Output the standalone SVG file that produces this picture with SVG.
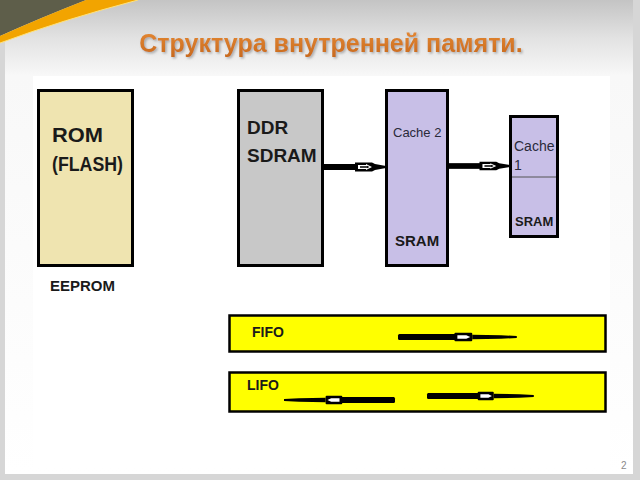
<svg xmlns="http://www.w3.org/2000/svg" xmlns:xlink="http://www.w3.org/1999/xlink" width="640" height="480" viewBox="0 0 640 480">
  <defs>
    <linearGradient id="bg" x1="0" y1="0" x2="0" y2="1">
      <stop offset="0" stop-color="#c4c4c4"/>
      <stop offset="0.08" stop-color="#e2e2e2"/>
      <stop offset="0.16" stop-color="#f8f8f8"/>
      <stop offset="1" stop-color="#ffffff"/>
    </linearGradient>
    <linearGradient id="orng" x1="0" y1="0" x2="0" y2="1">
      <stop offset="0" stop-color="#e68a34"/>
      <stop offset="1" stop-color="#c86a1e"/>
    </linearGradient>
    <filter id="shadow" x="-5%" y="-30%" width="110%" height="160%">
      <feDropShadow dx="1.5" dy="1.5" stdDeviation="1" flood-color="#808080" flood-opacity="0.6"/>
    </filter>
    <g id="pen">
      <rect x="0" y="-3" width="62" height="6" rx="1.5" fill="#000"/>
      <rect x="57" y="-4.2" width="18" height="8.4" rx="1" fill="#000"/>
      <path d="M60,-1.8 H69 L73,0 L69,1.8 H60 Z" fill="#fff"/>
      <path d="M75,-2.2 L104,-1.8 L120,-0.9 V0.9 L104,1.8 L75,2.2 Z" fill="#000"/>
    </g>
    <g id="conn">
      <rect x="0" y="-3" width="37" height="6" fill="#000"/>
      <path d="M33,-4.5 H50 L53,-3 L64,-1 V1 L53,3 L50,4.5 H33 Z" fill="#000"/>
      <path d="M36,-2 H44 V-3 L50,0 L44,3 V2 H36 Z" fill="#fff"/>
      <path d="M38,-0.8 H45 V-1.3 L47.5,0 L45,1.3 V0.8 H38 Z" fill="#000"/>
    </g>
    <style>
      .box { stroke: #000; stroke-width: 3; }
      .lbl { font-family: "Liberation Sans", Arial, sans-serif; font-weight: bold; fill: #1a1a1a; }
      .reg { font-family: "Liberation Sans", Arial, sans-serif; fill: #2a2a3a; }
      .bar { fill: #ffff00; stroke: #000; stroke-width: 2.5; }
    </style>
  </defs>

  <!-- slide background -->
  <rect x="0" y="0" width="640" height="480" fill="#d6d6d6"/>
  <rect x="5" y="0" width="628" height="474" fill="url(#bg)"/>
  <rect x="33" y="76" width="577" height="392" fill="#ffffff"/>
  <path d="M0,0 H86 Q40,18 0,36 Z" fill="#5e5e4a"/>
  <path d="M0,36 Q40,18 86,0 H138 Q62,20 0,43 Z" fill="#f2a400"/>
  <path d="M0,43 Q62,20 138,0" fill="none" stroke="#ffe27a" stroke-width="1"/>

  <!-- title -->
  <g id="title">
    <text x="331" y="52" text-anchor="middle" font-family="Liberation Sans, Arial, sans-serif" font-weight="bold" font-size="25" fill="url(#orng)" filter="url(#shadow)">Структура внутренней памяти.</text>
  </g>

  <g id="rom">
    <rect class="box" x="38.5" y="90.5" width="94" height="175" fill="#efe4b0"/>
    <text class="lbl" x="52" y="142" font-size="20" textLength="51" lengthAdjust="spacingAndGlyphs">ROM</text>
    <text class="lbl" x="52" y="171" font-size="20" textLength="71" lengthAdjust="spacingAndGlyphs">(FLASH)</text>
  </g>
  <g id="eeprom">
    <text class="lbl" x="50" y="291" font-size="15">EEPROM</text>
  </g>

  <g id="ddr">
    <rect class="box" x="238.5" y="90.5" width="84" height="175" fill="#c8c8c8"/>
    <text class="lbl" x="247" y="134" font-size="19">DDR</text>
    <text class="lbl" x="247" y="162" font-size="19">SDRAM</text>
  </g>

  <g id="cache2">
    <rect class="box" x="386.5" y="90.5" width="61" height="175" fill="#c8bfe7"/>
    <text class="reg" x="393" y="137" font-size="13">Cache 2</text>
    <text class="lbl" x="395" y="246" font-size="15">SRAM</text>
  </g>

  <g id="cache1">
    <rect class="box" x="510.5" y="116.5" width="47" height="120" fill="#c8bfe7"/>
    <line x1="512" y1="177" x2="556" y2="177" stroke="#555" stroke-width="1"/>
    <text class="reg" x="514" y="151" font-size="14" fill="#3f3f66">Cache</text>
    <text class="reg" x="514" y="170" font-size="14" fill="#3f3f66">1</text>
    <text class="lbl" x="515" y="226" font-size="13">SRAM</text>
  </g>

  <g id="connectors">
    <use xlink:href="#conn" transform="translate(322,167)"/>
    <use xlink:href="#conn" transform="translate(447,166) scale(0.985,0.95)"/>
  </g>

  <g id="fifo">
    <rect class="bar" x="229.5" y="315.5" width="376" height="36"/>
    <text class="lbl" x="252" y="337" font-size="14">FIFO</text>
    <use xlink:href="#pen" transform="translate(398,337) scale(0.99,1)"/>
  </g>

  <g id="lifo">
    <rect class="bar" x="229.5" y="372.5" width="376" height="39"/>
    <text class="lbl" x="247" y="390" font-size="14">LIFO</text>
    <use xlink:href="#pen" transform="translate(395,400) scale(-0.925,1)"/>
    <use xlink:href="#pen" transform="translate(427,396) scale(0.89,1)"/>
  </g>

  <text x="621" y="469" font-family="Liberation Sans, Arial, sans-serif" font-size="10" fill="#8a8a8a">2</text>
</svg>
